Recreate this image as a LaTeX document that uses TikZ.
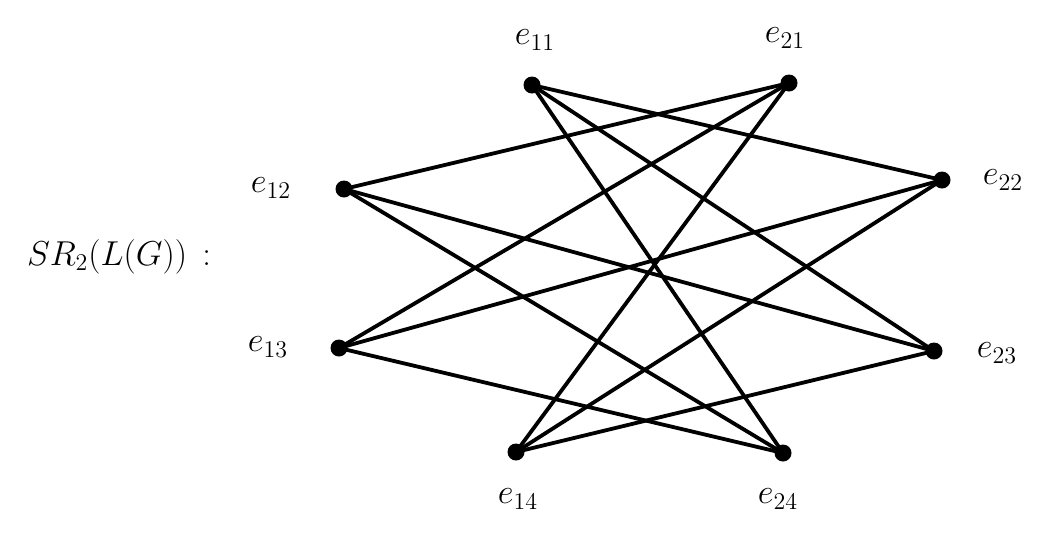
\documentclass[tikz,border=0pt]{standalone}
\begin{document}
\begin{tikzpicture}[x=0.5pt,y=-0.5pt,
  vtx/.style={circle,fill=black,inner sep=0pt,minimum size=8.5pt},
  lbl/.style={font=\fontsize{17}{20}\selectfont},
  edge/.style={line width=1.9pt}]
\useasboundingbox (0,0) rectangle (1058,547);
\node[vtx] (e11) at (532,85) {};
\node[vtx] (e21) at (789,83) {};
\node[vtx] (e12) at (344,189) {};
\node[vtx] (e22) at (942,180) {};
\node[vtx] (e13) at (339,348) {};
\node[vtx] (e23) at (934,351) {};
\node[vtx] (e14) at (516,452) {};
\node[vtx] (e24) at (783,453) {};
\node[lbl] (l11) at (535,40) {$e_{11}$};
\node[lbl] (l21) at (785,38) {$e_{21}$};
\node[lbl] (l12) at (271,188) {$e_{12}$};
\node[lbl] (l22) at (1003,180) {$e_{22}$};
\node[lbl] (l13) at (268,347) {$e_{13}$};
\node[lbl] (l23) at (997,353) {$e_{23}$};
\node[lbl] (l14) at (518,499) {$e_{14}$};
\node[lbl] (l24) at (778,499) {$e_{24}$};
\node[lbl] (title) at (119,257) {$SR_2(L(G))\,:$};
\foreach \a/\b in {e11/e22,e11/e23,e11/e24,e12/e21,e12/e23,e12/e24,e13/e21,e13/e22,e13/e24,e14/e21,e14/e22,e14/e23}
  \draw[edge] (\a.center) -- (\b.center);
\end{tikzpicture}
\end{document}
